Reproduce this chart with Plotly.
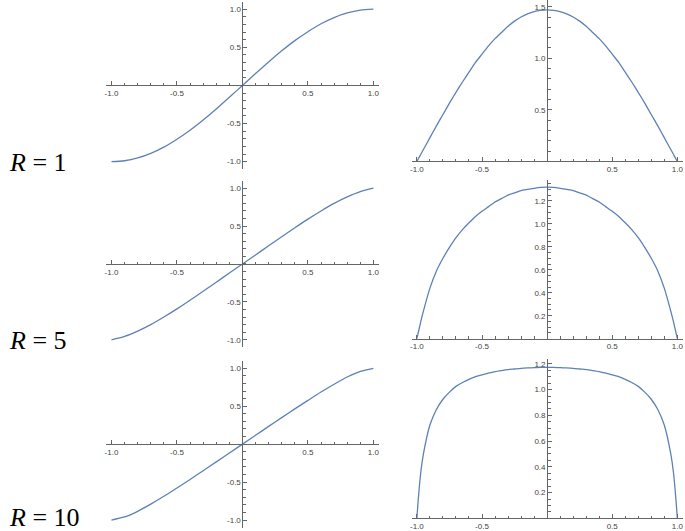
import plotly.graph_objects as go

# each curve is symmetric (left odd, right even), so only x >= 0 is listed
left_x = [0, 0.1, 0.2, 0.3, 0.4, 0.5, 0.6, 0.7, 0.8, 0.9, 1.0]
left_r1 = [0, 0.156, 0.309, 0.454, 0.588, 0.705, 0.809, 0.891, 0.951, 0.988, 1.0]
left_r5 = [0, 0.12, 0.24, 0.36, 0.478, 0.592, 0.70, 0.80, 0.885, 0.955, 1.0]
left_r10 = [0, 0.117, 0.234, 0.35, 0.465, 0.577, 0.687, 0.79, 0.885, 0.96, 1.0]

right_x = [0, 0.05, 0.1, 0.15, 0.2, 0.25, 0.3, 0.35, 0.4, 0.45, 0.5, 0.55, 0.6, 0.65, 0.7,
           0.75, 0.8, 0.85, 0.9, 0.95, 0.97, 0.99, 1.0]
right_r1 = [1.47, 1.465, 1.452, 1.43, 1.40, 1.36, 1.31, 1.25, 1.19, 1.12, 1.04, 0.96, 0.865, 0.77, 0.67,
            0.565, 0.455, 0.345, 0.23, 0.115, 0.069, 0.023, 0]
right_r5 = [1.32, 1.318, 1.31, 1.30, 1.29, 1.27, 1.25, 1.22, 1.19, 1.15, 1.11, 1.065, 1.01, 0.95, 0.88,
            0.795, 0.70, 0.59, 0.44, 0.24, 0.15, 0.05, 0]
right_r10 = [1.173, 1.172, 1.17, 1.168, 1.165, 1.16, 1.155, 1.148, 1.14, 1.128, 1.115, 1.10, 1.08, 1.055, 1.025,
             0.98, 0.925, 0.845, 0.725, 0.50, 0.36, 0.14, 0]

row_labels = ['<i>R</i> = 1', '<i>R</i> = 5', '<i>R</i> = 10']
x_ticks = [-1.0, -0.5, 0.5, 1.0]
left_y_ticks = [-1.0, -0.5, 0.5, 1.0]
right_y_ticks = [[0.5, 1.0, 1.5], [0.2, 0.4, 0.6, 0.8, 1.0, 1.2], [0.2, 0.4, 0.6, 0.8, 1.0, 1.2]]

W, H = 685, 531
BLUE = '#5E81B5'
AX = '#666666'


def odd(xs, ys):
    return [-v for v in xs[::-1]] + xs[1:], [-v for v in ys[::-1]] + ys[1:]


def even(xs, ys):
    return [-v for v in xs[::-1]] + xs[1:], ys[::-1] + ys[1:]


def px_x(p):
    return p / W


def px_y(p):
    return 1 - p / H


# pixel boxes of each panel (top, bottom) and y ranges
left_boxes = [(1.6, 169.6), (181, 348), (361.4, 528.6)]
right_boxes = [(0, 161.7), (180, 339.3), (360, 519.3)]
right_ranges = [[0, 1.565], [0, 1.385], [0, 1.235]]
right_minor = [0.1, 0.05, 0.05]

fig = go.Figure()
layout = {}
n = 0
left_data = [left_r1, left_r5, left_r10]
right_data = [right_r1, right_r5, right_r10]

tick_font = dict(family='Liberation Sans', size=8, color='#444444')


def axis_style(minor_step):
    return dict(ticks='inside', ticklen=4, tickcolor=AX, linecolor=AX, showline=True,
                showgrid=False, zeroline=False, tickfont=tick_font,
                minor=dict(tickmode='linear', tick0=0, dtick=minor_step, ticks='inside', ticklen=2.5,
                           tickcolor=AX, showgrid=False))


for row in range(3):
    # left panel
    n += 1
    sx = '' if n == 1 else str(n)
    xs, ys = odd(left_x, left_data[row])
    fig.add_trace(go.Scatter(x=xs, y=ys, mode='lines',
                             line=dict(color=BLUE, width=1.3, shape='spline', smoothing=0.8),
                             xaxis='x' + sx, yaxis='y' + sx, showlegend=False))
    top, bot = left_boxes[row]
    ylo, yhi = -1.1, 1.1
    zero_pos = px_y(bot) + (0 - ylo) / (yhi - ylo) * (px_y(top) - px_y(bot))
    layout['xaxis' + sx] = dict(domain=[px_x(104.7), px_x(378.3)], range=[-1.04, 1.04], anchor='free',
                                position=zero_pos, tickvals=x_ticks, ticktext=['-1.0', '-0.5', '0.5', '1.0'],
                                **axis_style(0.1))
    layout['yaxis' + sx] = dict(domain=[px_y(bot), px_y(top)], range=[ylo, yhi], anchor='free',
                                position=px_x(241.5), tickvals=left_y_ticks,
                                ticktext=['-1.0', '-0.5', '0.5', '1.0'], **axis_style(0.1))

    # right panel
    n += 1
    sx = str(n)
    xs, ys = even(right_x, right_data[row])
    fig.add_trace(go.Scatter(x=xs, y=ys, mode='lines',
                             line=dict(color=BLUE, width=1.3, shape='spline', smoothing=0.6),
                             xaxis='x' + sx, yaxis='y' + sx, showlegend=False))
    top, bot = right_boxes[row]
    layout['xaxis' + sx] = dict(domain=[px_x(411.5), px_x(683.5)], range=[-1.04, 1.04], anchor='free',
                                position=px_y(bot), tickvals=x_ticks, ticktext=['-1.0', '-0.5', '0.5', '1.0'],
                                **axis_style(0.1))
    layout['yaxis' + sx] = dict(domain=[px_y(bot), px_y(top)], range=right_ranges[row], anchor='free',
                                position=px_x(547.5), tickvals=right_y_ticks[row],
                                ticktext=['%.1f' % v for v in right_y_ticks[row]],
                                **axis_style(right_minor[row]))

# row labels
label_y = [163, 341, 518]
annotations = []
for lab, yy in zip(row_labels, label_y):
    annotations.append(dict(text=lab, x=px_x(5), y=px_y(yy), xref='paper', yref='paper', xanchor='left',
                            yanchor='middle', showarrow=False,
                            font=dict(family='Liberation Serif', size=26, color='black')))

fig.update_layout(width=W, height=H, margin=dict(l=0, r=0, t=0, b=0), plot_bgcolor='white',
                  paper_bgcolor='white', annotations=annotations, **layout)
# the page body has a default 8px margin; drop it so the figure sits at the window corner
fig.write_html('out.html', config={'displayModeBar': False},
               post_script="document.body.style.margin='0';")
